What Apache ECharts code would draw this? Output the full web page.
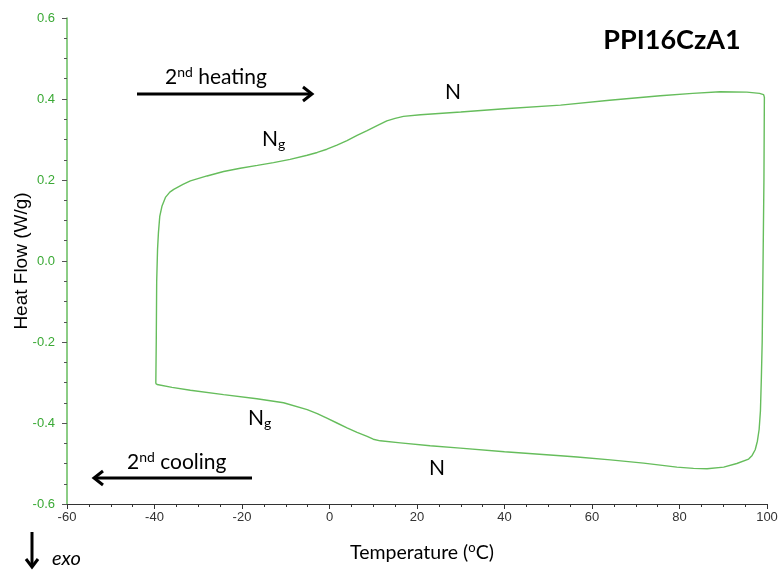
<!DOCTYPE html>
<html>
<head>
<meta charset="utf-8">
<script src="https://cdn.jsdelivr.net/npm/echarts@6/dist/echarts.min.js"></script>
<style>
  html, body { margin: 0; padding: 0; background: #fff; }
  #chart { width: 780px; height: 571px; }
</style>
</head>
<body>
<div id="chart"></div>
<script>
// heating run: left edge (-40 °C) up, then along the top to 100 °C
var heatingT = [-39.7, -39.6, -39.5, -39.3, -39.1, -38.8, -38.3, -37.5, -36.5, -35.6, -33.5, -31.8, -28.0, -24.2, -20.4, -16.5, -12.8, -9.0, -5.1, -2.8, -0.6, 1.7, 4.0, 6.3, 8.6, 11.0, 13.1, 15.0, 16.9, 20.8, 30.0, 40.0, 52.8, 64.0, 75.6, 83.0, 89.3, 95.4, 98.3, 99.2, 99.4];
var heatingHF = [-0.303, -0.2, -0.05, 0.03, 0.07, 0.11, 0.135, 0.157, 0.17, 0.177, 0.189, 0.198, 0.210, 0.221, 0.229, 0.236, 0.243, 0.251, 0.261, 0.268, 0.276, 0.286, 0.297, 0.310, 0.322, 0.335, 0.346, 0.352, 0.357, 0.361, 0.368, 0.376, 0.385, 0.397, 0.408, 0.414, 0.418, 0.417, 0.414, 0.411, 0.405];

// cooling run: right edge (100 °C) down, then along the bottom back to -40 °C
var coolingT = [99.4, 99.3, 99.1, 98.9, 98.7, 98.5, 98.2, 97.8, 97.3, 96.6, 95.8, 93.1, 90.1, 86.3, 83.2, 79.4, 71.8, 64.2, 56.6, 52.8, 40.0, 29.9, 23.0, 16.2, 11.6, 10.0, 8.6, 6.3, 4.0, 1.7, -0.6, -2.8, -5.1, -10.5, -16.6, -24.2, -31.8, -36.0, -39.4, -39.7];
var coolingHF = [0.405, 0.2, 0.0, -0.2, -0.293, -0.37, -0.416, -0.445, -0.466, -0.48, -0.489, -0.500, -0.509, -0.513, -0.512, -0.509, -0.499, -0.491, -0.484, -0.481, -0.471, -0.462, -0.456, -0.449, -0.444, -0.44, -0.433, -0.423, -0.412, -0.4, -0.388, -0.377, -0.367, -0.350, -0.340, -0.330, -0.319, -0.312, -0.305, -0.303];

var xTicks = [-60, -40, -20, 0, 20, 40, 60, 80, 100];

var green = '#3aa935';
var lineGreen = '#66bd5c';
var font = 'Lato, "Open Sans", sans-serif';
var arial = '"Liberation Sans", Arial, sans-serif';

function pairs(xs, ys) {
  return xs.map(function (x, i) { return [x, ys[i]]; });
}

var myChart = echarts.init(document.getElementById('chart'));

// superscript / subscript pieces for labels
var richBase = {
  b: { fontSize: 21, fontFamily: font, fill: '#000' },
  sup: { fontSize: 14, fontFamily: font, fill: '#000', padding: [0, 0, 10, 0] },
  sub: { fontSize: 14, fontFamily: font, fill: '#000', padding: [10, 0, 0, 0] }
};

function txt(x, y, str) {
  return {
    type: 'text', x: x, y: y,
    style: { text: str, rich: richBase, font: '21px ' + font, fill: '#000', verticalAlign: 'middle' }
  };
}

function arrow(pts, head) {
  return [
    { type: 'polyline', shape: { points: pts }, style: { stroke: '#000', lineWidth: 3, fill: null } },
    { type: 'polyline', shape: { points: head }, style: { stroke: '#000', lineWidth: 3, fill: null } }
  ];
}

var option = {
  animation: false,
  grid: { left: 67, right: 13, top: 18, bottom: 67, outerBoundsMode: 'none', containLabel: false },
  xAxis: {
    type: 'value',
    min: -60, max: 100, interval: 20,
    name: 'Temperature ({s|o}C)',
    nameLocation: 'middle',
    nameGap: 37,
    nameMoveOverlap: false,
    nameTextStyle: {
      fontSize: 19.5, fontFamily: font, color: '#000', padding: [0, 0, 0, 10],
      rich: { s: { fontSize: 13, fontFamily: font, color: '#000', padding: [0, 0, 10, 0] } }
    },
    axisLine: { onZero: false, lineStyle: { color: '#333', width: 1 } },
    axisTick: { length: 5, lineStyle: { color: '#333' } },
    minorTick: { show: true, splitNumber: 4, length: 3, lineStyle: { color: '#333' } },
    axisLabel: {
      fontSize: 13, fontFamily: arial, color: '#333', margin: 7,
      customValues: xTicks
    },
    splitLine: { show: false }
  },
  yAxis: {
    type: 'value',
    min: -0.6, max: 0.6, interval: 0.2,
    name: 'Heat Flow (W/g)',
    nameLocation: 'middle',
    nameGap: 36,
    nameMoveOverlap: false,
    nameTextStyle: { fontSize: 19, fontFamily: arial, color: '#000' },
    axisLine: { show: true, onZero: false, lineStyle: { color: lineGreen, width: 1.5 } },
    axisTick: { show: true, length: 5, lineStyle: { color: '#555' } },
    minorTick: { show: true, splitNumber: 4, length: 3, lineStyle: { color: '#555' } },
    axisLabel: {
      fontSize: 13, fontFamily: arial, color: green, margin: 12,
      formatter: function (v) { return (Math.abs(v) < 1e-9 ? 0 : v).toFixed(1); }
    },
    splitLine: { show: false }
  },
  series: [
    {
      name: 'heating', type: 'line', data: pairs(heatingT, heatingHF),
      showSymbol: false, smooth: false,
      lineStyle: { color: lineGreen, width: 1.4 }
    },
    {
      name: 'cooling', type: 'line', data: pairs(coolingT, coolingHF),
      showSymbol: false, smooth: false,
      lineStyle: { color: lineGreen, width: 1.4 }
    }
  ],
  graphic: [
    {
      type: 'text', x: 672, y: 40,
      style: { text: 'PPI16CzA1', font: 'bold 27px ' + font, fill: '#000', align: 'center', verticalAlign: 'middle' }
    },
    txt(165, 77, '{b|2}{sup|nd}{b| heating}'),
    txt(127, 462, '{b|2}{sup|nd}{b| cooling}'),
    txt(262, 139, '{b|N}{sub|g}'),
    txt(248, 418, '{b|N}{sub|g}'),
    txt(445, 92, '{b|N}'),
    txt(429, 468, '{b|N}'),
    {
      type: 'text', x: 52, y: 559,
      style: { text: 'exo', font: 'italic 20px ' + font, fill: '#000', verticalAlign: 'middle' }
    }
  ]
    .concat(arrow([[137, 94], [312, 94]], [[303, 87], [312, 94], [303, 101]]))
    .concat(arrow([[252, 478], [94, 478]], [[103, 471], [94, 478], [103, 485]]))
    .concat(arrow([[32, 532], [32, 567]], [[26, 559], [32, 567], [38, 559]]))
};

myChart.setOption(option);
</script>
</body>
</html>
